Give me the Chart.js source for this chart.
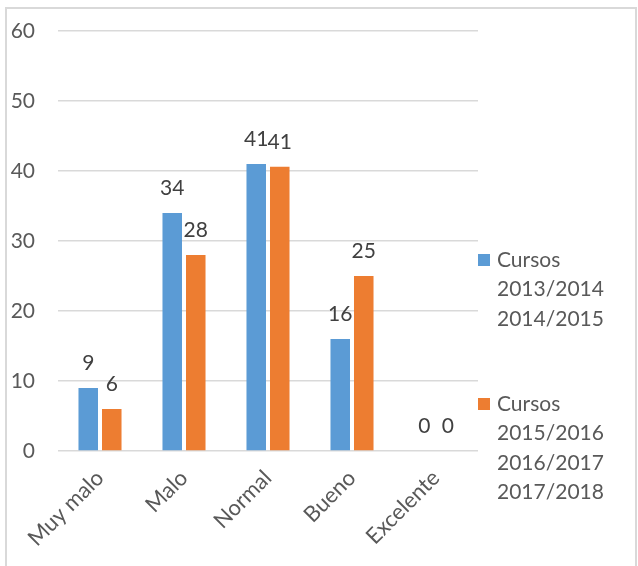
<!DOCTYPE html>
<html>
<head>
<meta charset="utf-8">
<script src="https://cdn.jsdelivr.net/npm/chart.js@4.4.0/dist/chart.umd.min.js"></script>
<style>
body { margin: 0; background: #fff; }
#wrap { position: relative; width: 638px; height: 566px; overflow: hidden; }
#frame { position: absolute; left: 5px; top: 7px; width: 632px; height: 600px; border: 2px solid #d9d9d9; box-sizing: border-box; }
</style>
</head>
<body>
<div id="wrap">
<canvas id="graph" width="638" height="566"></canvas>
<div id="frame"></div>
</div>
<script>
// valores
var categories = ["Muy malo", "Malo", "Normal", "Bueno", "Excelente"];
var cursos1 = [9, 34, 41, 16, 0];
var cursos2 = [6, 28, 40.6, 25, 0];
var legend1 = ["Cursos", "2013/2014", "2014/2015"];
var legend2 = ["Cursos", "2015/2016", "2016/2017", "2017/2018"];
var yTicks = [0, 10, 20, 30, 40, 50, 60];

var textColor = "#595959";
Chart.defaults.font.family = "Lato";
Chart.defaults.font.size = 21;

// etiquetas de datos encima de cada barra
var dataLabels = {
    id: "dataLabels",
    afterDatasetsDraw: function (chart) {
        var c = chart.ctx;
        c.save();
        c.font = "21px Lato";
        c.fillStyle = "#404040";
        c.textAlign = "center";
        c.textBaseline = "middle";
        chart.data.datasets.forEach(function (ds, i) {
            chart.getDatasetMeta(i).data.forEach(function (bar, j) {
                c.fillText(Math.round(ds.data[j]), bar.x, bar.y - 25);
            });
        });
        c.restore();
    }
};

// leyenda a la derecha con varias lineas
var sideLegend = {
    id: "sideLegend",
    afterDraw: function (chart, args, opts) {
        var c = chart.ctx;
        var x = chart.chartArea.right;
        c.save();
        c.font = "21px Lato";
        c.textBaseline = "middle";
        c.textAlign = "left";
        chart.data.datasets.forEach(function (ds, i) {
            var y = opts.starts[i];
            c.fillStyle = ds.backgroundColor;
            c.fillRect(x, y - 6, 12, 12);
            c.fillStyle = textColor;
            opts.lines[i].forEach(function (line, k) {
                c.fillText(line, x + 19, y + k * 29.5);
            });
        });
        c.restore();
    }
};

var ctx = document.getElementById("graph").getContext("2d");
var chart = new Chart(ctx, {
    type: "bar",
    data: {
        labels: categories,
        datasets: [
            {
                label: legend1.join(" "),
                data: cursos1,
                backgroundColor: "#5B9BD5",
                categoryPercentage: 0.56,
                barPercentage: 0.83
            },
            {
                label: legend2.join(" "),
                data: cursos2,
                backgroundColor: "#ED7D31",
                categoryPercentage: 0.56,
                barPercentage: 0.83
            }
        ]
    },
    options: {
        responsive: false,
        animation: false,
        layout: { padding: { top: 31, right: 160, left: 0, bottom: 0 } },
        plugins: {
            legend: { display: false },
            tooltip: { enabled: false },
            sideLegend: { starts: [260, 404], lines: [legend1, legend2] }
        },
        scales: {
            x: {
                grid: { display: false },
                border: { display: false },
                ticks: { color: textColor, font: { size: 22 }, minRotation: 45, maxRotation: 45, padding: 6 },
                afterFit: function (scale) { scale.height = 115; }
            },
            y: {
                min: yTicks[0],
                max: yTicks[yTicks.length - 1],
                grid: { color: "#d9d9d9", lineWidth: 1.5, drawTicks: false },
                border: { display: false },
                ticks: { stepSize: yTicks[1] - yTicks[0], color: textColor, padding: 23 },
                afterFit: function (scale) {
                    scale.width = 58;
                    // el padding de las etiquetas no debe empujar el area del grafico
                    scale.paddingTop = 13;
                    scale.paddingBottom = 13;
                }
            }
        }
    },
    plugins: [dataLabels, sideLegend]
});
</script>
</body>
</html>
